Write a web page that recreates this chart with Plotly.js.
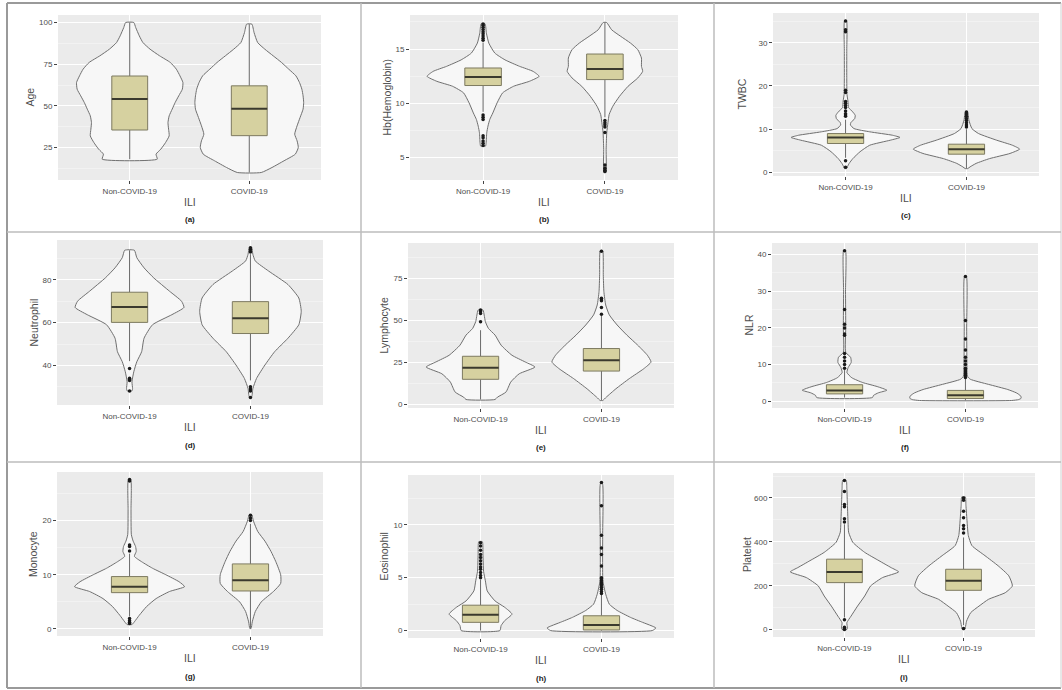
<!DOCTYPE html>
<html><head><meta charset="utf-8">
<script src="https://cdn.plot.ly/plotly-3.0.1.min.js"></script>
<style>html,body{margin:0;padding:0;background:#fff}#chart{width:1062px;height:690px}</style>
</head><body><div id="chart"></div>
<script>
// ---------------- DATA ----------------
const categories = ['Non-COVID-19', 'COVID-19'];
const variables = ['Age', 'Hb(Hemoglobin)', 'TWBC', 'Neutrophil', 'Lymphocyte', 'NLR', 'Monocyte', 'Eosinophil', 'Platelet'];
const panelLabels = ['(a)', '(b)', '(c)', '(d)', '(e)', '(f)', '(g)', '(h)', '(i)'];
const xAxisTitle = 'ILI';

// Violin outline profiles: value levels and half-widths (category units), Non-COVID-19
const violinNonY = [
  [18, 21, 24, 28, 32, 36, 40, 44, 48, 52, 56, 60, 64, 68, 72, 76, 80, 84, 88, 92, 97, 100],
  [6.04, 6.35, 7.27, 7.88, 8.5, 9.1, 10.03, 10.95, 11.56, 12.02, 12.48, 12.94, 13.4, 14.0, 14.63, 15.55, 16.47, 17.33],
  [0.9, 1.3, 2.1, 3.2, 4.8, 6.3, 7.46, 8.1, 8.6, 9.4, 10.15, 11.0, 11.6, 12.4, 13.2, 14.0, 15.0, 16.5, 18, 22, 28, 35.15],
  [28.1, 29.2, 32.3, 37, 41.7, 46.4, 52.7, 59, 63.7, 67.1, 70, 74.7, 80.9, 85.6, 90.35, 93.8],
  [2.8, 4.2, 7.2, 13.2, 18.1, 22.1, 25.1, 29.1, 35.1, 41.1, 45.1, 49.1, 53, 56],
  [1.0, 1.6, 2.3, 3.0, 4.0, 5.1, 6.4, 7.8, 9.2, 10.6, 12.0, 13.3, 20, 30, 41.1],
  [0.8, 1.3, 2.5, 4.1, 5.6, 6.9, 7.8, 8.7, 10.0, 11.2, 12.4, 13.4, 14.3, 15.2, 16.2, 17.4, 22, 27.6],
  [0.0, 0.47, 0.94, 1.56, 2.2, 2.8, 3.75, 4.7, 5.6, 7.2, 8.4],
  [0, 8, 31, 61, 107, 153, 199, 237, 263, 283, 314, 352, 398, 444, 490, 566, 643, 680]
];
const violinNonW = [
  [0.23, 0.22, 0.26, 0.30, 0.33, 0.325, 0.32, 0.33, 0.355, 0.38, 0.41, 0.44, 0.445, 0.42, 0.39, 0.34, 0.25, 0.17, 0.11, 0.08, 0.05, 0.034],
  [0.02, 0.025, 0.03, 0.04, 0.055, 0.08, 0.115, 0.16, 0.25, 0.38, 0.46, 0.41, 0.30, 0.18, 0.096, 0.047, 0.027, 0.016],
  [0.008, 0.015, 0.03, 0.06, 0.12, 0.2, 0.37, 0.45, 0.39, 0.2, 0.07, 0.04, 0.045, 0.075, 0.08, 0.06, 0.025, 0.02, 0.012, 0.01, 0.01, 0.008],
  [0.02, 0.025, 0.02, 0.035, 0.06, 0.1, 0.12, 0.19, 0.35, 0.45, 0.43, 0.33, 0.2, 0.12, 0.06, 0.04],
  [0.12, 0.14, 0.21, 0.25, 0.32, 0.45, 0.37, 0.26, 0.17, 0.12, 0.065, 0.04, 0.03, 0.02],
  [0.23, 0.24, 0.28, 0.35, 0.27, 0.15, 0.06, 0.02, 0.03, 0.055, 0.05, 0.01, 0.01, 0.008, 0.008],
  [0.02, 0.04, 0.08, 0.14, 0.22, 0.33, 0.455, 0.41, 0.30, 0.19, 0.1, 0.04, 0.055, 0.05, 0.03, 0.015, 0.012, 0.01],
  [0.16, 0.17, 0.2, 0.26, 0.2, 0.12, 0.055, 0.04, 0.025, 0.02, 0.015],
  [0.02, 0.025, 0.02, 0.055, 0.11, 0.17, 0.22, 0.32, 0.455, 0.39, 0.29, 0.17, 0.07, 0.035, 0.03, 0.025, 0.02, 0.015]
];
// Violin outline profiles, COVID-19
const violinCovY = [
  [10, 13, 17, 21, 25, 29, 33, 38, 43, 48, 52, 56, 60, 64, 68, 72, 76, 80, 84, 88, 94, 99],
  [3.6, 5.74, 7.27, 8.2, 8.96, 9.72, 10.64, 11.56, 12.33, 12.94, 13.4, 14.17, 14.94, 15.55, 16.17, 16.78, 17.45],
  [0.9, 1.3, 2.1, 3.2, 4.4, 5.4, 6.3, 7.46, 9.0, 10.15, 12.1, 14.0],
  [25.3, 29.2, 33.9, 40.2, 46.4, 52.7, 59, 65.3, 71.5, 77.8, 84.1, 88.8, 91.9, 95.1],
  [2.2, 4.2, 9.2, 15.2, 21.1, 25.1, 29.1, 35.1, 41.1, 47.1, 53.1, 59, 67, 77, 91.4],
  [0.2, 0.45, 0.8, 1.2, 1.66, 2.3, 3.2, 4.6, 6.0, 6.9, 10, 20, 34],
  [0.06, 1.3, 3.2, 5.0, 6.9, 8.4, 10.0, 12.4, 14.3, 16.2, 18.0, 19.9, 21.1],
  [0.0, 0.25, 0.47, 0.78, 1.25, 1.9, 2.5, 3.44, 4.7, 9, 13.9],
  [0, 8, 38, 77, 107, 138, 168, 199, 245, 291, 337, 383, 429, 490, 566, 605]
];
const violinCovW = [
  [0.10, 0.19, 0.29, 0.385, 0.41, 0.40, 0.38, 0.40, 0.425, 0.45, 0.455, 0.45, 0.44, 0.42, 0.39, 0.33, 0.27, 0.20, 0.13, 0.07, 0.04, 0.022],
  [0.008, 0.01, 0.015, 0.025, 0.035, 0.065, 0.12, 0.19, 0.27, 0.31, 0.30, 0.30, 0.27, 0.21, 0.13, 0.055, 0.014],
  [0.01, 0.03, 0.08, 0.19, 0.36, 0.44, 0.38, 0.25, 0.1, 0.045, 0.02, 0.01],
  [0.01, 0.02, 0.05, 0.12, 0.2, 0.31, 0.40, 0.42, 0.40, 0.31, 0.15, 0.04, 0.02, 0.01],
  [0.01, 0.04, 0.12, 0.23, 0.35, 0.41, 0.38, 0.30, 0.21, 0.13, 0.065, 0.035, 0.02, 0.015, 0.01],
  [0.38, 0.44, 0.46, 0.46, 0.45, 0.42, 0.35, 0.19, 0.04, 0.015, 0.012, 0.01, 0.008],
  [0.005, 0.015, 0.04, 0.09, 0.19, 0.25, 0.25, 0.21, 0.17, 0.12, 0.06, 0.025, 0.01],
  [0.42, 0.45, 0.41, 0.34, 0.24, 0.13, 0.065, 0.035, 0.012, 0.01, 0.008],
  [0.01, 0.015, 0.025, 0.06, 0.13, 0.21, 0.35, 0.41, 0.38, 0.29, 0.18, 0.07, 0.04, 0.03, 0.02, 0.015]
];

// Box statistics per panel: [Non-COVID-19, COVID-19]
const q1 = [[35.5, 32.1], [11.63, 12.18], [6.7, 4.23], [60.1, 54.9], [14.8, 19.7], [2.0, 0.74], [6.69, 7.0], [0.78, 0.06], [214, 179]];
const median = [[54.1, 48.3], [12.42, 13.16], [8.08, 5.38], [67.3, 62.0], [21.7, 26.1], [2.95, 1.66], [7.8, 9.0], [1.5, 0.53], [263, 222]];
const q3 = [[67.9, 62.0], [13.25, 14.54], [9.0, 6.54], [74.2, 69.8], [28.5, 33.1], [4.5, 2.95], [9.66, 12.0], [2.4, 1.4], [321, 275]];
const lowerWhisker = [[18, 10], [9.2, 8.7], [3.4, 0.9], [42, 33], [2.8, 2.2], [1.0, 0.2], [2.3, 0.06], [0, 0], [55, 20]];
const upperWhisker = [[100, 99], [15.6, 17.45], [12.2, 10.0], [93.8, 92], [44, 52.7], [8.5, 6.3], [13.9, 19.4], [4.8, 3.4], [480, 420]];

// Outlier points
const outliersNon = [
  [],
  [15.8, 16.0, 16.2, 16.4, 16.6, 16.8, 17.0, 17.2, 17.3, 8.9, 8.7, 8.5, 7.0, 6.8, 6.5, 6.3, 6.1],
  [13.0, 13.3, 13.6, 14.2, 15.0, 15.5, 16.0, 16.4, 18.5, 19.0, 32.5, 33.0, 35.0, 2.7, 1.2],
  [38.5, 34, 33.5, 33, 28],
  [49, 54, 55, 56],
  [9, 10, 11, 12, 13, 18, 18.3, 20, 21, 25, 41],
  [14.4, 15.2, 15.5, 27.3, 27.6, 1.9, 1.5, 1.2, 1.0],
  [5.0, 5.2, 5.5, 5.8, 6.0, 6.3, 6.6, 6.9, 7.2, 7.6, 8.0, 8.3],
  [490, 505, 560, 570, 630, 680, 45, 10, 5, 0]
];
const outliersCov = [
  [],
  [8.4, 8.2, 8.0, 7.8, 7.3, 4.3, 4.0, 3.8, 3.7],
  [10.5, 11.0, 11.5, 12.0, 12.5, 13.0, 13.5, 14.0],
  [93, 94, 95, 30, 29, 28, 25],
  [53.5, 57.5, 61.5, 62.5, 63, 91],
  [6.5, 7, 7.5, 8, 8.5, 9, 10, 11, 12, 14, 17, 22, 34],
  [20, 20.5, 21],
  [3.5, 3.7, 3.9, 4.1, 4.3, 4.5, 4.7, 4.9, 5.0, 6.1, 7.2, 7.8, 9.0, 11.8, 14.0],
  [440, 460, 475, 510, 540, 590, 600, 5]
];

// ---------------- STYLE / LAYOUT ----------------
const W = 1062, H = 690;
const FONT = 'Liberation Sans, Arial, sans-serif';
const panelPx = [[58,321,15,180],[410,678,15,180],[773,1039,13,176],
                 [57,323,240,405],[408,674,243,408],[772,1038,243,408],
                 [57,323,472,636],[408,674,475,638],[773,1035,473,637]];
const yTitleX = [30, 387, 742, 33, 383, 748, 33, 383, 747];
const dticks = [25, 5, 10, 20, 25, 10, 10, 5, 200];
const catPos = [1, 2];
const boxWidth = 0.3;

const traces = [];
const layout = {
  width: W, height: H, margin: {l: 0, r: 0, t: 0, b: 0},
  paper_bgcolor: '#ffffff', plot_bgcolor: '#ebebeb', showlegend: false,
  font: {family: FONT, color: '#4d4d4d'},
  annotations: [], shapes: []
};

for (let i = 0; i < 9; i++) {
  const s = i === 0 ? '' : String(i + 1);
  const xa = 'x' + s, ya = 'y' + s;
  const base = {xaxis: xa, yaxis: ya, hoverinfo: 'skip', showlegend: false};
  const profY = [violinNonY[i], violinCovY[i]];
  const profW = [violinNonW[i], violinCovW[i]];
  // violins
  for (let j = 0; j < 2; j++) {
    const Y = profY[j], Wd = profW[j], c = catPos[j];
    const xs = [], ys = [];
    for (let k = 0; k < Y.length; k++) { xs.push(c - Wd[k]); ys.push(Y[k]); }
    for (let k = Y.length - 1; k >= 0; k--) { xs.push(c + Wd[k]); ys.push(Y[k]); }
    xs.push(xs[0]); ys.push(ys[0]);
    traces.push(Object.assign({type: 'scatter', mode: 'lines', x: xs, y: ys, fill: 'toself', fillcolor: '#f7f7f7',
      line: {color: '#6f6f6f', width: 1, shape: 'spline', smoothing: 0.5}}, base));
  }
  // whiskers, boxes, medians (boxplot from the statistics above)
  const wx = [], wy = [], bx = [], by = [], mx = [], my = [];
  for (let j = 0; j < 2; j++) {
    const c = catPos[j], h = boxWidth / 2;
    wx.push(c, c, null, c, c, null);
    wy.push(lowerWhisker[i][j], q1[i][j], null, q3[i][j], upperWhisker[i][j], null);
    bx.push(c - h, c + h, c + h, c - h, c - h, null);
    by.push(q1[i][j], q1[i][j], q3[i][j], q3[i][j], q1[i][j], null);
    mx.push(c - h, c + h, null);
    my.push(median[i][j], median[i][j], null);
  }
  traces.push(Object.assign({type: 'scatter', mode: 'lines', x: wx, y: wy, line: {color: '#6a6a6a', width: 1}}, base));
  traces.push(Object.assign({type: 'scatter', mode: 'lines', x: bx, y: by, fill: 'toself', fillcolor: '#d6d1a0',
    line: {color: '#7d7a60', width: 1}}, base));
  traces.push(Object.assign({type: 'scatter', mode: 'lines', x: mx, y: my, line: {color: '#3b3a2e', width: 2}}, base));
  // outliers
  traces.push(Object.assign({type: 'scatter', mode: 'markers',
    x: outliersNon[i].map(() => catPos[0]).concat(outliersCov[i].map(() => catPos[1])),
    y: outliersNon[i].concat(outliersCov[i]),
    marker: {color: '#1a1a1a', size: 3.5}}, base));

  // y range from the data with ggplot-like 5% expansion
  const all = profY[0].concat(profY[1], outliersNon[i], outliersCov[i], lowerWhisker[i], upperWhisker[i]);
  const lo = Math.min(...all), hi = Math.max(...all), pad = (hi - lo) * 0.05;
  const [x0, x1, y0, y1] = panelPx[i];
  layout['xaxis' + s] = {domain: [x0 / W, x1 / W], anchor: ya, range: [0.4, 2.6], tickmode: 'array',
    tickvals: catPos, ticktext: categories, showgrid: true, gridcolor: '#ffffff', gridwidth: 1,
    ticks: 'outside', ticklen: 3, tickcolor: '#444', tickfont: {size: 8, color: '#4d4d4d', family: FONT},
    zeroline: false, showline: false, fixedrange: true};
  layout['yaxis' + s] = {domain: [1 - y1 / H, 1 - y0 / H], anchor: xa, range: [lo - pad, hi + pad],
    tickmode: 'linear', tick0: 0, dtick: dticks[i], showgrid: true, gridcolor: '#ffffff', gridwidth: 1,
    minor: {tick0: 0, dtick: dticks[i] / 2, showgrid: true, gridcolor: '#f6f6f6', gridwidth: 0.6},
    ticks: 'outside', ticklen: 3, tickcolor: '#444', tickfont: {size: 8, color: '#4d4d4d', family: FONT},
    zeroline: false, showline: false, fixedrange: true};

  const cx = (x0 + x1) / 2 / W;
  layout.annotations.push({text: xAxisTitle, xref: 'paper', yref: 'paper', x: cx, y: 1 - (y1 + 22) / H,
    xanchor: 'center', yanchor: 'middle', showarrow: false, font: {size: 10.5, color: '#4d4d4d', family: FONT}});
  layout.annotations.push({text: '<b>' + panelLabels[i] + '</b>', xref: 'paper', yref: 'paper', x: cx, y: 1 - (y1 + 40) / H,
    xanchor: 'center', yanchor: 'middle', showarrow: false, font: {size: 8, color: '#222', family: FONT}});
  layout.annotations.push({text: variables[i], xref: 'paper', yref: 'paper', x: yTitleX[i] / W, y: 1 - (y0 + y1) / 2 / H,
    xanchor: 'center', yanchor: 'middle', textangle: -90, showarrow: false, font: {size: 10.5, color: '#4d4d4d', family: FONT}});
}

// panel frame lines
const frameLine = (xa0, ya0, xa1, ya1, color, width) => ({type: 'line', xref: 'paper', yref: 'paper',
  x0: xa0 / W, y0: 1 - ya0 / H, x1: xa1 / W, y1: 1 - ya1 / H, line: {color: color, width: width}});
layout.shapes.push(frameLine(7, 3, 1061, 3, '#9a9a9a', 2));
layout.shapes.push(frameLine(7, 3, 7, 688, '#9a9a9a', 2));
layout.shapes.push(frameLine(7, 688, 1061, 688, '#9a9a9a', 2));
layout.shapes.push(frameLine(1061, 3, 1061, 688, '#d0d0d0', 1));
layout.shapes.push(frameLine(361, 3, 361, 688, '#bdbdbd', 1.5));
layout.shapes.push(frameLine(714, 3, 714, 688, '#bdbdbd', 1.5));
layout.shapes.push(frameLine(7, 232, 1061, 232, '#bdbdbd', 1.5));
layout.shapes.push(frameLine(7, 462, 1061, 462, '#bdbdbd', 1.5));

Plotly.newPlot('chart', traces, layout, {staticPlot: true, displayModeBar: false});
</script>
</body></html>
